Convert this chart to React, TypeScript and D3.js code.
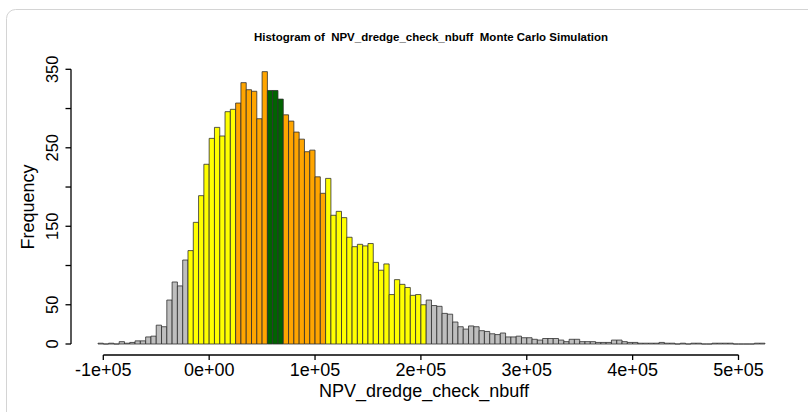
import React from "react";
import * as d3 from "d3";

// Simulated NPV counts per 5,000-wide bin, first bin starting at -105,000
const binStart = -105000;
const binWidth = 5000;
const counts: number[] = [
  1, 0, 1, 0, 3, 1, 2, 4, 4, 9, 10, 24, 22, 56, 79, 74, 107,
  119, 155, 189, 229, 262, 276, 265, 296, 299,
  307, 333, 324, 322, 287, 347,
  323, 323, 312,
  292, 284, 270, 261, 245, 247, 213, 192,
  211, 164, 169, 161, 136, 124, 127, 125, 128, 104, 94, 102, 63, 82, 76, 72, 62, 63, 50,
  56, 49, 48, 39, 38, 28, 22, 19, 23, 22, 17, 16, 13, 12, 14, 9, 9, 10, 8, 8, 6, 5, 7, 7, 7, 5, 3,
  6, 6, 3, 3, 3, 2, 2, 2, 5, 5, 3, 2, 2, 1, 1, 1, 1, 2, 1, 1, 0, 1, 0, 1, 1, 0, 0, 1, 1, 1, 1, 0, 0, 0, 0, 1, 1,
];

// Shading intervals (bin lower edge): outer 90%, inner 50%, centre
const outerBand: [number, number] = [-20000, 205000];
const innerBand: [number, number] = [25000, 110000];
const centreBand: [number, number] = [55000, 70000];

const xTicks = [-100000, 0, 100000, 200000, 300000, 400000, 500000];
const xTickLabels = ["-1e+05", "0e+00", "1e+05", "2e+05", "3e+05", "4e+05", "5e+05"];
const yTicks = [0, 50, 100, 150, 200, 250, 300, 350];
const yTickLabels = ["0", "50", "", "150", "", "250", "", "350"];

const title = "Histogram of  NPV_dredge_check_nbuff  Monte Carlo Simulation";
const xTitle = "NPV_dredge_check_nbuff";
const yTitle = "Frequency";

const W = 808;
const H = 412;
const FONT = "'Liberation Sans', Arial, Helvetica, sans-serif";

function fillFor(lo: number): string {
  if (lo >= centreBand[0] && lo < centreBand[1]) return "#006400";
  if (lo >= innerBand[0] && lo < innerBand[1]) return "#FFA500";
  if (lo >= outerBand[0] && lo < outerBand[1]) return "#FFFF00";
  return "#BEBEBE";
}

export default function App() {
  const x = d3.scaleLinear().domain([-100000, 500000]).range([103.3, 738.5]);
  const y = d3.scaleLinear().domain([0, 350]).range([344, 69.3]);

  const bins = counts.map((c, i) => {
    const lo = binStart + i * binWidth;
    return { lo, hi: lo + binWidth, c };
  });

  const axisY = 355;
  const axisX = 71;

  // closed outline per bin, so empty bins still show as a flat edge
  const barPath = (lo: number, hi: number, c: number) => {
    const p = d3.path();
    p.moveTo(x(lo), y(0));
    p.lineTo(x(lo), y(c));
    p.lineTo(x(hi), y(c));
    p.lineTo(x(hi), y(0));
    p.closePath();
    return p.toString();
  };

  return (
    <svg
      width={W}
      height={H}
      style={{ position: "absolute", left: 0, top: 0, background: "#fff" }}
      fontFamily={FONT}
    >
      <rect x={0} y={0} width={W} height={H} fill="#fff" />
      <rect x={6.5} y={9.5} width={W + 40} height={H + 40} rx={9} fill="none" stroke="#d4d4d4" strokeWidth={1} />

      <text
        x={431}
        y={41}
        textAnchor="middle"
        fontSize={10}
        fontWeight="bold"
        textLength={354}
        lengthAdjust="spacingAndGlyphs"
        fill="#000"
        style={{ whiteSpace: "pre" }}
      >
        {title}
      </text>

      {/* bars */}
      <g stroke="#2e2e2e" strokeWidth={0.8}>
        {bins.map((b, i) => (
          <path key={i} d={barPath(b.lo, b.hi, b.c)} fill={fillFor(b.lo)} />
        ))}
      </g>

      {/* x axis */}
      <g stroke="#000" strokeWidth={1.3}>
        <line x1={x(xTicks[0])} x2={x(xTicks[xTicks.length - 1])} y1={axisY} y2={axisY} />
        {xTicks.map((t) => (
          <line key={t} x1={x(t)} x2={x(t)} y1={axisY} y2={axisY + 5} />
        ))}
      </g>
      {xTicks.map((t, i) => (
        <text key={t} x={x(t)} y={376} textAnchor="middle" fontSize={18} fill="#000">
          {xTickLabels[i]}
        </text>
      ))}
      <text x={424} y={397} textAnchor="middle" fontSize={18} fill="#000">
        {xTitle}
      </text>

      {/* y axis */}
      <g stroke="#000" strokeWidth={1.3}>
        <line x1={axisX} x2={axisX} y1={y(0)} y2={y(350)} />
        {yTicks.map((t) => (
          <line key={t} x1={axisX - 5.5} x2={axisX} y1={y(t)} y2={y(t)} />
        ))}
      </g>
      {yTicks.map((t, i) =>
        yTickLabels[i] ? (
          <text
            key={t}
            transform={`translate(51.7,${y(t)}) rotate(-90)`}
            textAnchor="middle"
            dy="0.36em"
            fontSize={16.5}
            fill="#000"
          >
            {yTickLabels[i]}
          </text>
        ) : null
      )}
      <text
        transform={`translate(28,207) rotate(-90)`}
        textAnchor="middle"
        dy="0.36em"
        fontSize={18}
        fill="#000"
      >
        {yTitle}
      </text>
    </svg>
  );
}
